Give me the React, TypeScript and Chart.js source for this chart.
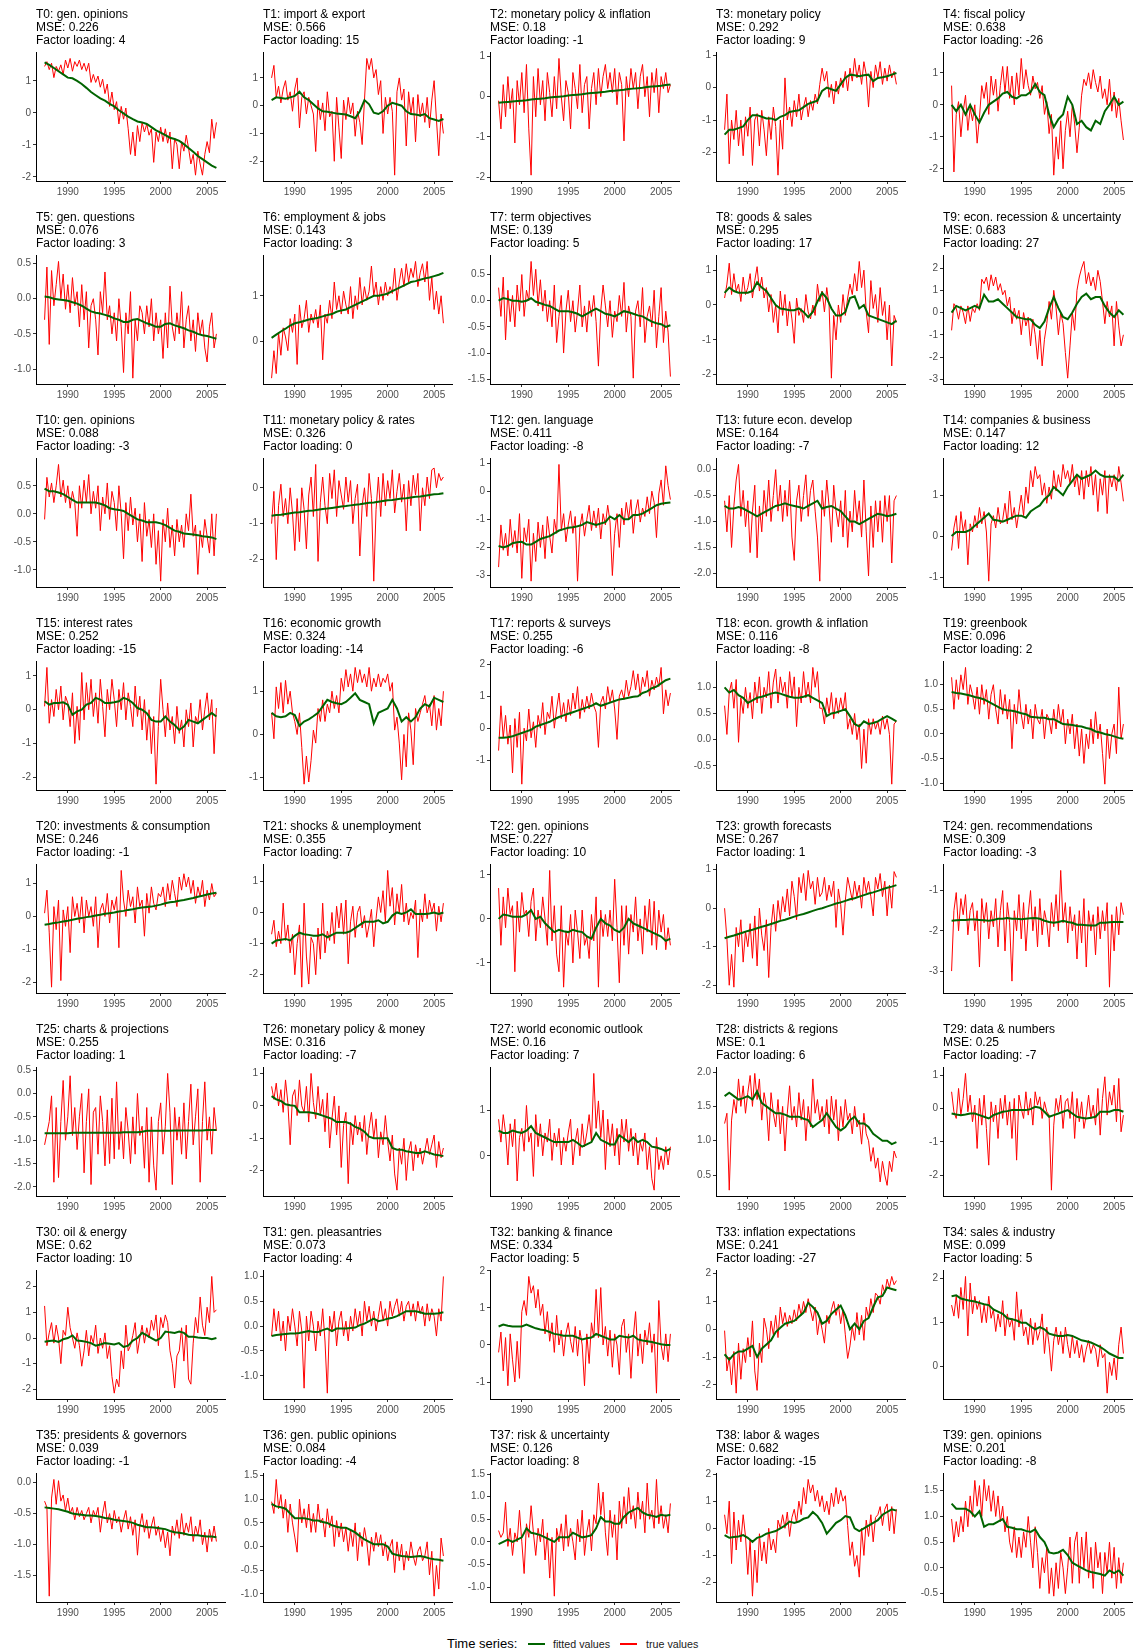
import React, { useEffect, useRef } from "react";
import { Chart, registerables } from "chart.js";

Chart.register(...registerables);

const FONT = "'Liberation Sans', Arial, Helvetica, sans-serif";

// ---- panel metadata ----
const topicNames = [
  "gen. opinions", "import & export", "monetary policy & inflation", "monetary policy", "fiscal policy",
  "gen. questions", "employment & jobs", "term objectives", "goods & sales", "econ. recession & uncertainty",
  "gen. opinions", "monetary policy & rates", "gen. language", "future econ. develop", "companies & business",
  "interest rates", "economic growth", "reports & surveys", "econ. growth & inflation", "greenbook",
  "investments & consumption", "shocks & unemployment", "gen. opinions", "growth forecasts", "gen. recommendations",
  "charts & projections", "monetary policy & money", "world economic outlook", "districts & regions", "data & numbers",
  "oil & energy", "gen. pleasantries", "banking & finance", "inflation expectations", "sales & industry",
  "presidents & governors", "gen. public opinions", "risk & uncertainty", "labor & wages", "gen. opinions",
];
const mseValues = [
  0.226, 0.566, 0.18, 0.292, 0.638, 0.076, 0.143, 0.139, 0.295, 0.683,
  0.088, 0.326, 0.411, 0.164, 0.147, 0.252, 0.324, 0.255, 0.116, 0.096,
  0.246, 0.355, 0.227, 0.267, 0.309, 0.255, 0.316, 0.16, 0.1, 0.25,
  0.62, 0.073, 0.334, 0.241, 0.099, 0.039, 0.084, 0.126, 0.682, 0.201,
];
const factorLoadings = [
  4, 15, -1, 9, -26, 3, 3, 5, 17, 27,
  -3, 0, -8, -7, 12, -15, -14, -6, -8, 2,
  -1, 7, 10, 1, -3, 1, -7, 7, 6, -7,
  10, 4, 5, -27, 5, -1, -4, 8, -15, -8,
];
// y tick spacing of each panel
const tickSteps = [
  1, 1, 1, 1, 1, 0.5, 1, 0.5, 1, 1,
  0.5, 1, 1, 0.5, 1, 1, 1, 1, 0.5, 0.5,
  1, 1, 1, 1, 1, 0.5, 1, 1, 0.5, 1,
  1, 0.5, 1, 1, 1, 0.5, 0.5, 0.5, 1, 0.5,
];
const xTickYears = [1990, 1995, 2000, 2005];
const firstYear = 1987.5;
const lastYear = 2006.0;

// ---- series (true values: quarterly, fitted values: half-yearly, 1987.5 .. 2006.0) ----
const true0 = [1.45,1.6, 1.35,1.55,1.1,1.45, 1.3,1.5,1.2,1.65, 1.4,1.7,1.3,1.6, 1.45,1.65,1.35,1.55, 1.3,1.55,0.95,1.2, 0.95,1.15,0.8,1.05, 0.6,0.9,0.2,0.65, 0.1,0.35,-0.35,0.2, -0.2,0.15,-0.5,-1.3, -0.6,-1.35,-0.4,-0.9, -0.3,-0.6,-0.35,-0.7, -0.5,-1.55,-0.6,-0.9, -0.45,-0.9,-0.5,-0.95, -0.6,-1.75,-0.8,-1.0, -1.75,-0.9,-1.2,-0.7, -1.1,-1.6,-1.3,-1.95, -1.2,-1.6,-1.95,-1.3, -0.9,-1.25,-0.2,-0.8, -0.3];
const fit0 = [1.58,1.5,1.4,1.3,1.2,1.1,1.08,1.0,0.9,0.78,0.65,0.55,0.45,0.38,0.28,0.2,0.08,-0.02,-0.12,-0.2,-0.27,-0.3,-0.35,-0.45,-0.55,-0.62,-0.7,-0.78,-0.82,-0.88,-0.98,-1.1,-1.22,-1.35,-1.45,-1.55,-1.65,-1.72];

const true1 = [1.0,1.45, 0.3,0.7,0.1,0.6, 0.9,0.2,0.5,-0.2, 0.6,1.0,-0.8,0.3, 0.5,-0.3,0.3,0.0, -0.3,-1.65,0.2,-0.5, 0.1,-0.9,0.5,-0.4, -0.2,-2.0,0.3,-0.8, -1.9,0.2,-0.5,0.3, -0.3,0.1,-1.1,-0.2, -0.6,-1.4,0.2,1.7, 1.3,1.7,1.0,1.3, 0.4,0.9,-1.0,0.3, -0.3,0.3,-0.2,-2.5, 0.5,1.0,0.2,0.6, -1.45,0.5,-0.3,0.3, -1.3,0.4,-0.4,0.1, -0.6,0.3,-0.8,0.2, 0.9,-0.5,-1.8,-0.3, -1.0];
const fit1 = [0.2,0.3,0.28,0.25,0.3,0.35,0.5,0.3,0.2,0.05,-0.1,-0.2,-0.22,-0.25,-0.28,-0.3,-0.32,-0.38,-0.45,-0.2,0.2,0.05,-0.25,-0.3,-0.2,0.0,0.1,0.05,0.0,-0.2,-0.3,-0.32,-0.35,-0.3,-0.45,-0.5,-0.55,-0.48];

const true2 = [-0.1,-0.8, 0.3,-0.5,0.5,-0.3, 0.2,-1.15,0.4,-0.2, 0.6,-0.4,0.8,-0.8, -1.95,0.5,-0.5,0.7, -0.2,0.4,-0.6,0.6, 0.1,-0.5,0.5,-0.3, 0.95,0.0,-0.6,0.4, 0.1,-0.8,0.6,0.2, -0.3,0.8,-0.4,0.3, 0.5,-0.8,0.2,0.6, -0.2,0.7,0.0,0.5, 0.8,0.2,0.6,0.1, 0.7,-0.2,0.6,0.3, -1.1,0.5,0.0,0.7, 0.2,0.6,-0.3,0.5, 0.8,0.0,0.5,-0.5, 0.6,0.1,0.7,-0.4, 0.5,0.2,0.6,0.1, 0.3];
const fit2 = [-0.15,-0.14,-0.13,-0.12,-0.11,-0.1,-0.09,-0.07,-0.06,-0.05,-0.04,-0.02,-0.01,0.0,0.01,0.03,0.04,0.05,0.06,0.08,0.09,0.1,0.11,0.12,0.14,0.15,0.16,0.17,0.19,0.2,0.21,0.22,0.24,0.25,0.26,0.27,0.29,0.3];

const true3 = [-1.3,-0.2, -2.35,-1.0,-1.6,-0.7, -1.8,-1.0,-2.1,-0.9, -1.5,-0.6,-2.4,-1.0, -0.8,-1.8,-0.7,-1.3, -2.1,-0.9,-1.6,-0.6, -1.2,-2.7,-1.0,-1.9, 0.3,-1.0,-0.6,-1.2, -0.4,-0.9,-0.2,-1.0, -0.6,-0.3,-0.9,-0.4, -0.7,-0.2,-0.5,0.1, 0.6,0.2,0.5,-0.3, 0.1,-0.5,0.2,-0.2, 0.3,0.0,0.5,-0.1, 0.6,0.2,0.9,0.3, 0.7,0.1,0.8,0.4, -0.6,0.5,0.0,0.7, 0.3,0.8,0.1,0.6, 0.2,0.7,0.3,0.5, 0.1];
const fit3 = [-1.45,-1.3,-1.3,-1.25,-1.2,-1.0,-0.85,-0.85,-0.9,-0.95,-0.95,-1.0,-0.9,-0.85,-0.75,-0.72,-0.7,-0.6,-0.5,-0.45,-0.4,-0.1,0.0,-0.05,-0.1,0.1,0.3,0.4,0.38,0.35,0.38,0.4,0.2,0.3,0.32,0.35,0.4,0.45];

const true4 = [0.6,-2.1, -0.3,0.1,-1.0,-0.2, 0.3,-0.8,-0.1,-0.5, 0.0,-1.2,-0.4,0.6, 0.2,0.7,-0.3,0.9, 0.3,0.8,-0.2,0.6, 1.2,0.4,1.2,0.2, 0.9,0.0,1.0,0.3, 1.45,0.5,1.1,0.6, 0.3,0.9,0.5,0.7, 0.2,0.6,-0.3,0.1, -0.9,-0.3,-2.2,-1.0, -1.7,-0.5,-2.0,-0.8, -0.2,-1.0,0.0,-0.6, -1.5,-0.7,0.3,0.8, 0.6,1.0,0.5,1.1, 0.7,0.4,0.9,0.2, 0.5,0.0,0.8,-0.2, 0.4,-0.4,0.2,-0.5, -1.1];
const fit4 = [0.0,-0.2,0.0,-0.3,0.0,-0.3,-0.55,-0.25,0.0,0.1,0.2,0.35,0.4,0.25,0.2,0.3,0.3,0.4,0.65,0.4,0.3,-0.3,-0.7,-0.45,-0.3,0.25,0.0,-0.6,-0.5,-0.7,-0.8,-0.5,-0.6,-0.2,0.0,0.25,0.0,0.1];

const true5 = [-0.3,0.45, -0.65,0.4,-0.1,0.2, 0.53,0.0,0.35,-0.15, 0.2,-0.2,0.3,-0.1, 0.1,-0.4,0.2,-0.3, 0.1,-0.7,-0.1,0.0, -0.3,-0.8,0.1,-0.2, 0.38,-0.3,-0.1,-0.5, -0.2,-0.6,0.0,-0.4, -1.05,-0.2,-0.5,0.1, -1.13,-0.3,-0.6,-0.1, -0.2,-0.5,-0.1,-0.4, 0.0,-0.6,-0.2,-0.5, -0.3,-0.85,-0.2,-0.7, 0.18,-0.4,-0.6,-0.2, -0.5,0.1,-0.7,-0.3, -0.1,-0.6,-0.3,-0.75, -0.2,-0.5,-0.3,-0.7, -0.9,-0.4,-0.2,-0.7, -0.5];
const fit5 = [0.03,0.02,0.0,-0.01,-0.02,-0.03,-0.05,-0.07,-0.1,-0.14,-0.18,-0.2,-0.21,-0.23,-0.25,-0.28,-0.3,-0.33,-0.33,-0.3,-0.29,-0.32,-0.35,-0.37,-0.4,-0.4,-0.36,-0.35,-0.38,-0.4,-0.42,-0.45,-0.47,-0.5,-0.52,-0.53,-0.55,-0.57];

const true6 = [-0.8,-0.2, -0.7,0.2,-0.3,0.3, 0.1,-0.2,0.5,0.2, 0.6,-0.5,0.8,0.3, 0.5,0.9,0.2,0.6, 0.4,0.7,0.3,0.8, -0.4,0.6,0.4,0.9, 0.5,1.3,0.7,1.0, 0.6,1.1,0.8,0.6, 1.2,0.5,1.0,0.7, 1.4,0.8,1.2,0.9, 1.1,1.65,1.0,1.3, 0.8,1.2,0.9,1.3, 1.0,1.2,1.05,1.6, 0.9,1.3,1.6,1.2, 1.7,1.3,1.6,1.4, 1.75,1.2,1.5,1.7, 1.3,1.75,0.9,1.4, 0.7,1.1,0.6,1.0, 0.4];
const fit6 = [0.08,0.15,0.22,0.28,0.35,0.4,0.42,0.45,0.48,0.5,0.52,0.55,0.58,0.6,0.65,0.68,0.7,0.75,0.8,0.85,0.9,0.95,1.0,1.0,1.02,1.05,1.1,1.15,1.2,1.25,1.3,1.32,1.35,1.38,1.4,1.43,1.46,1.5];

const true7 = [0.25,-0.3, 0.45,-0.75,0.2,-0.4, 0.1,-0.5,0.3,-0.2, 0.5,-0.3,0.2,0.0, 0.75,0.1,0.6,-0.1, 0.4,-0.2,0.2,-0.4, 0.0,-0.5,0.3,-0.8, -0.3,0.1,-1.0,-0.2, 0.2,-0.4,0.0,-0.6, -0.2,0.3,-0.5,-0.1, -0.6,0.0,-0.3,0.1, -0.4,-1.25,-0.2,0.3, -0.1,-0.5,0.0,-0.7, -0.2,-0.4,0.1,-0.3, 0.35,-0.6,-0.1,-0.3, -1.48,-0.2,0.0,-0.5, 0.25,-0.8,-0.3,-0.1, -0.5,0.2,-0.9,-0.3, 0.25,-0.8,-0.2,-0.6, -1.45];
const fit7 = [0.0,0.05,0.03,0.0,0.0,-0.02,0.0,0.05,-0.02,-0.05,-0.08,-0.1,-0.15,-0.2,-0.2,-0.2,-0.22,-0.25,-0.3,-0.25,-0.2,-0.15,-0.2,-0.25,-0.27,-0.3,-0.25,-0.2,-0.22,-0.25,-0.28,-0.3,-0.35,-0.4,-0.43,-0.45,-0.5,-0.47];

const true8 = [0.2,0.6, 1.2,0.3,0.9,0.4, 0.6,0.1,0.8,0.3, 0.5,0.9,0.2,0.7, 1.1,0.4,0.8,0.2, 0.5,-0.2,0.3,-0.5, 0.0,-0.8,0.4,-0.3, 0.3,-0.6,0.1,-0.4, -1.1,0.2,-0.3,-0.1, -0.5,0.3,-0.2,-0.4, 0.0,-0.3,0.6,0.1, 0.4,-0.2,0.5,0.0, -2.1,-0.3,-1.0,0.0, -0.5,0.3,-0.3,0.2, 0.6,0.3,0.9,0.4, 1.25,0.5,1.0,-0.2, -0.8,0.7,-0.1,0.3, -0.5,0.5,-0.3,0.1, -1.0,0.0,-1.75,-0.3, -0.5];
const fit8 = [0.35,0.5,0.4,0.35,0.35,0.35,0.4,0.65,0.5,0.4,0.2,0.0,-0.1,-0.12,-0.15,-0.15,-0.1,-0.2,-0.35,-0.2,0.1,0.35,0.2,-0.1,-0.3,-0.3,-0.2,0.2,0.25,-0.1,0.0,-0.3,-0.35,-0.4,-0.45,-0.5,-0.55,-0.45];

const true9 = [-0.8,0.4, 0.2,-0.3,0.3,0.0, -0.5,0.3,-0.4,0.2, 0.0,0.4,0.1,1.5, 1.3,1.6,1.0,1.7, 1.2,1.6,1.0,1.3, 0.8,1.0,0.3,0.7, -0.5,0.2,-0.3,0.1, -1.0,0.0,-0.6,-0.2, -1.5,-0.3,-1.0,-2.1, -0.8,-2.4,-1.2,-0.5, 0.5,-0.3,1.0,0.2, -1.0,0.0,-0.5,-1.8, -2.95,-1.5,0.0,-0.8, 1.0,1.6,2.0,2.3, 1.3,1.8,1.2,1.6, 1.0,1.9,1.4,0.5, -0.5,0.5,-0.2,0.3, -1.5,0.5,-0.6,-1.5, -1.0];
const fit9 = [0.0,0.3,0.2,0.1,0.2,0.3,0.2,0.8,0.5,0.5,0.6,0.4,0.2,0.0,-0.2,-0.25,-0.3,-0.3,-0.55,-0.7,-0.4,0.2,0.7,0.2,-0.2,-0.3,0.0,0.4,0.7,0.85,0.6,0.7,0.7,0.3,0.0,-0.2,0.1,-0.1];

const true10 = [-0.1,0.65, 0.3,0.55,0.2,0.5, 0.88,0.3,0.6,0.2, 0.5,0.1,0.4,0.2, -0.4,0.5,0.1,0.6, 0.2,0.7,0.0,0.4, 0.1,0.5,-0.3,0.3, 0.0,0.55,-0.1,0.4, 0.2,-0.3,0.5,0.0, -0.8,0.2,-0.3,0.3, -0.2,0.1,-0.5,0.0, -0.85,0.2,-0.4,-0.1, -0.6,0.0,-0.9,-0.3, -1.2,-0.1,-0.5,0.1, -0.6,-0.2,-0.75,-0.1, -0.5,-0.2,-0.6,0.0, -0.3,0.35,-0.4,-0.2, -1.08,-0.3,-0.6,-0.1, -0.4,-0.7,0.0,-0.75, 0.0];
const fit10 = [0.45,0.4,0.4,0.38,0.35,0.3,0.25,0.2,0.2,0.2,0.2,0.2,0.18,0.15,0.1,0.08,0.07,0.05,0.0,-0.05,-0.1,-0.12,-0.15,-0.15,-0.15,-0.17,-0.2,-0.25,-0.3,-0.32,-0.35,-0.36,-0.37,-0.38,-0.4,-0.41,-0.42,-0.45];

const true11 = [-1.0,-0.1, -2.0,-0.5,0.1,-0.8, -0.3,-1.0,0.0,-0.7, -1.75,-0.3,-1.5,0.0, -0.6,-1.7,-0.2,0.3, -0.8,0.65,-2.05,-0.4, 0.3,-0.5,-1.0,0.4, -0.3,0.5,-0.8,0.2, -0.2,-0.6,0.3,-0.4, 0.2,-1.0,-0.3,0.1, -1.9,-0.5,0.0,-0.8, 0.4,-0.3,-2.6,-0.6, 0.3,-0.8,0.4,-0.5, 0.2,-0.3,0.5,-0.7, -0.1,0.4,-0.4,0.1, -1.2,0.2,-0.5,0.35, -0.2,0.4,-1.2,0.0, -0.5,0.3,-0.3,0.5, 0.55,0.0,0.4,0.2, 0.3];
const fit11 = [-0.78,-0.76,-0.75,-0.73,-0.71,-0.69,-0.68,-0.66,-0.64,-0.63,-0.61,-0.59,-0.58,-0.56,-0.54,-0.52,-0.51,-0.49,-0.47,-0.46,-0.44,-0.42,-0.41,-0.39,-0.37,-0.35,-0.34,-0.32,-0.3,-0.29,-0.27,-0.25,-0.24,-0.22,-0.2,-0.18,-0.17,-0.15];

const true12 = [-2.7,-1.2, -2.1,-1.5,-2.3,-1.0, -2.0,-1.4,-2.2,-0.8, -3.1,-1.3,-1.8,-1.0, -3.2,-1.5,-2.5,-1.1, -2.0,-1.2,-2.4,-0.9, -1.6,-2.2,-1.0,-1.5, 0.95,-1.4,-0.8,-1.8, -1.2,-0.7,-1.5,-0.9, -3.2,-1.3,-0.8,-1.6, -1.0,-0.5,-1.4,-0.7, -1.3,-0.6,-1.7,-0.8, -1.2,-0.5,-1.1,-3.0, -1.5,-0.8,-2.0,-0.6, -1.2,-0.4,-1.0,-0.3, -1.5,-0.7,-0.3,-1.1, -0.6,-0.9,-0.2,-0.8, 0.0,-0.4,-1.65,-0.1, 0.4,-0.5,0.9,0.2, -0.3];
const fit12 = [-1.95,-2.0,-1.95,-1.85,-1.82,-1.8,-1.9,-1.9,-1.8,-1.7,-1.65,-1.6,-1.5,-1.4,-1.35,-1.3,-1.28,-1.25,-1.2,-1.1,-1.15,-1.2,-1.15,-1.1,-0.9,-1.0,-0.85,-1.0,-1.0,-0.85,-0.85,-0.8,-0.7,-0.6,-0.5,-0.45,-0.42,-0.4];

const true13 = [-0.6,-1.2, -0.5,-1.5,-0.7,-0.2, 0.1,-0.9,-0.4,-1.1, -0.6,-1.6,-0.8,-0.3, -1.7,-0.7,-1.2,-0.4, -0.9,-0.2,-1.0,-0.5, 0.0,-0.8,-0.3,-1.0, -0.4,-0.9,-0.2,-1.3, -1.75,-0.6,-0.3,-1.0, -0.5,-0.1,-0.9,-0.4, -0.2,-0.8,-1.3,-2.15, -0.4,-0.9,-0.2,-0.7, -1.4,-0.3,-0.8,-1.1, -0.6,-1.3,-0.4,-1.5, -0.8,-1.2,-0.4,-1.0, -0.6,-1.3,-0.2,-1.2, -2.05,-0.7,-1.5,-0.6, -1.2,-0.6,-1.4,-0.5, -1.0,-0.5,-1.8,-0.6, -0.5];
const fit13 = [-0.7,-0.75,-0.75,-0.72,-0.75,-0.8,-0.85,-0.9,-0.85,-0.8,-0.75,-0.7,-0.68,-0.65,-0.68,-0.7,-0.72,-0.75,-0.7,-0.65,-0.6,-0.75,-0.72,-0.7,-0.75,-0.8,-0.9,-1.0,-1.0,-1.05,-1.0,-0.95,-0.9,-0.85,-0.87,-0.9,-0.88,-0.85];

const true14 = [-0.35,0.2, 0.5,-0.3,0.6,0.1, 0.4,-0.7,0.3,0.1, 0.5,0.2,0.7,0.3, 0.6,0.1,-1.1,0.3, 0.5,0.2,0.7,0.3, 0.4,0.8,0.3,1.1, 0.4,0.7,0.2,0.6, 1.0,0.5,1.2,0.8, 1.6,1.2,1.7,1.4, 1.5,1.0,1.3,0.8, 1.2,0.9,1.6,1.1, 1.5,1.2,1.75,1.4, 1.6,1.3,1.75,1.2, 1.5,1.0,1.6,0.9, 1.6,1.2,1.7,1.0, 1.5,0.6,1.4,1.0, 1.6,0.55,1.5,1.2, 1.5,1.1,1.7,1.3, 0.85];
const fit14 = [0.0,0.1,0.1,0.1,0.15,0.25,0.35,0.45,0.55,0.4,0.38,0.35,0.4,0.45,0.5,0.5,0.45,0.6,0.68,0.75,0.9,1.0,1.2,1.1,1.0,1.2,1.35,1.5,1.4,1.45,1.5,1.6,1.5,1.45,1.45,1.45,1.35,1.5];

const true15 = [0.1,1.25, -0.4,0.3,-0.2,0.6, 0.0,0.7,-0.3,0.4, 0.2,-0.5,0.5,-1.0, 0.1,-0.9,1.1,-0.3, 0.8,0.0,0.9,-0.2, 0.5,-0.4,0.9,0.1, -0.8,0.6,0.0,0.9, 0.3,-0.5,0.6,0.0, 0.8,-0.3,0.5,0.1, -0.5,0.7,-0.2,0.4, -0.6,0.3,-0.9,0.0, -1.3,-0.2,-2.2,-0.5, 0.9,0.0,-0.8,0.2, -0.6,-0.2,-1.0,0.1, -0.7,-0.3,-1.1,0.0, -0.5,0.2,-1.1,-0.2, -0.4,0.3,-0.6,0.0, 0.5,-0.3,0.3,-1.3, 0.05];
const fit15 = [0.25,0.15,0.2,0.2,0.22,0.15,-0.15,-0.05,0.0,0.15,0.2,0.35,0.3,0.2,0.2,0.22,0.25,0.35,0.3,0.2,0.05,0.0,-0.1,-0.3,-0.35,-0.35,-0.2,-0.35,-0.45,-0.6,-0.5,-0.3,-0.35,-0.4,-0.3,-0.2,-0.1,-0.2];

const true16 = [0.5,-0.1, 1.1,0.6,1.2,0.5, 1.25,0.7,1.0,0.5, 0.3,0.0,0.5,-0.3, -1.15,-0.5,-1.1,-0.6, 0.1,-0.2,0.6,0.3, 0.8,0.3,0.7,0.5, 1.0,0.6,0.9,0.5, 1.3,1.0,1.5,1.1, 1.4,1.0,1.55,1.2, 1.5,1.2,1.4,1.1, 1.55,1.0,1.3,1.1, 1.4,1.1,1.3,1.2, 1.4,1.0,1.2,0.1, 0.4,-0.2,-1.05,0.0, -0.75,0.5,0.1,-0.7, 0.6,0.3,0.5,0.7, 0.9,0.5,0.7,0.2, 0.9,0.1,0.6,0.2, 1.0];
const fit16 = [0.5,0.42,0.4,0.42,0.5,0.45,0.2,0.3,0.35,0.42,0.5,0.65,0.8,0.75,0.72,0.7,0.75,0.85,0.95,0.8,0.75,0.7,0.25,0.5,0.55,0.6,0.8,0.6,0.3,0.4,0.3,0.4,0.6,0.7,0.65,0.85,0.8,0.75];

const true17 = [-0.7,0.7, -0.3,0.4,-0.5,0.1, -1.4,0.3,-0.6,0.5, -1.75,0.0,-0.4,0.6, -0.3,0.2,-0.6,0.4, 0.0,0.8,-0.2,0.5, 0.3,1.0,0.0,0.6, 1.1,0.3,0.8,0.2, 0.9,0.4,1.1,0.6, 1.3,0.3,0.9,0.5, 1.0,0.6,1.1,0.7, 0.5,-0.6,0.8,1.0, 0.6,1.3,0.8,1.2, 0.6,-0.35,1.0,1.2, 0.9,1.5,1.0,1.3, 1.8,1.2,1.7,1.0, 1.6,1.3,1.8,1.0, 1.5,1.2,1.6,1.3, 1.9,0.45,1.2,0.7, 1.1];
const fit17 = [-0.3,-0.3,-0.28,-0.25,-0.2,-0.15,-0.1,-0.05,0.05,0.1,0.15,0.2,0.28,0.35,0.4,0.45,0.5,0.55,0.6,0.65,0.7,0.78,0.7,0.75,0.8,0.85,0.9,0.92,0.95,0.98,1.0,1.1,1.15,1.25,1.3,1.4,1.5,1.55];

const true18 = [0.65,0.1, 0.9,1.1,0.6,1.15, -0.05,0.8,0.5,1.0, 0.6,0.9,0.4,1.1, 0.7,1.2,0.5,1.0, 0.8,1.3,0.6,1.1, 1.35,0.7,1.2,0.9, 1.1,0.6,1.3,0.8, 1.2,0.25,1.0,0.7, 1.3,0.8,1.1,0.7, 1.38,1.0,1.3,0.6, 0.6,0.3,0.8,0.5, 0.9,0.4,0.8,0.5, 0.8,0.55,0.9,0.2, 0.4,0.1,0.5,0.0, 0.3,-0.55,0.2,-0.45, 0.4,0.1,0.4,0.2, 0.35,0.1,0.45,0.2, 0.4,0.1,-0.85,0.3, 0.35];
const fit18 = [1.0,0.9,0.95,0.85,0.8,0.7,0.75,0.8,0.82,0.85,0.88,0.9,0.88,0.85,0.82,0.8,0.8,0.82,0.85,0.8,0.75,0.7,0.45,0.5,0.52,0.55,0.58,0.45,0.3,0.25,0.35,0.3,0.32,0.35,0.4,0.45,0.4,0.35];

const true19 = [1.15,0.5, 1.1,0.7,1.2,0.9, 1.35,0.6,1.0,0.8, 0.5,0.95,0.4,1.0, 0.6,0.9,0.3,0.8, 1.0,0.5,0.2,0.9, 0.4,0.8,0.3,0.7, -0.3,0.6,0.2,0.9, 0.4,0.1,0.6,0.2, 0.5,-0.1,0.6,0.3, 0.2,0.5,-0.1,0.4, 0.3,0.0,0.5,0.1, 0.6,0.2,0.5,-0.2, 0.3,0.0,0.4,-0.3, 0.2,-0.45,0.1,-0.6, 0.0,-0.3,0.3,-0.2, 0.45,-0.1,0.2,-0.4, -1.02,0.1,-0.5,0.0, 0.2,-0.4,0.95,-0.1, 0.2];
const fit19 = [0.85,0.83,0.82,0.8,0.78,0.75,0.73,0.7,0.65,0.6,0.55,0.5,0.48,0.47,0.45,0.42,0.4,0.35,0.34,0.33,0.33,0.3,0.3,0.25,0.2,0.19,0.18,0.16,0.15,0.12,0.1,0.05,0.03,0.0,-0.02,-0.05,-0.08,-0.1];

const true20 = [0.1,0.8, -0.5,-2.15,0.3,-0.4, 0.5,-1.95,0.2,-0.3, 0.3,-1.1,0.6,0.0, 0.4,-0.2,0.6,-0.5, 0.5,0.0,0.3,-0.3, 0.6,-0.95,0.2,0.4, 0.0,0.7,-0.2,0.5, 0.2,0.6,-0.95,1.4, 0.5,0.0,0.8,0.3, 0.6,-0.2,0.9,0.3, 0.5,-0.6,0.7,0.1, 0.9,0.4,0.2,0.7, 0.6,0.9,0.3,1.0, 0.5,1.1,0.7,0.3, 1.2,0.8,1.3,0.9, 1.2,0.7,1.1,0.4, 0.9,0.6,1.1,0.3, 0.8,0.5,1.0,0.6, 0.7];
const fit20 = [-0.25,-0.23,-0.2,-0.18,-0.15,-0.13,-0.1,-0.07,-0.05,-0.02,0.0,0.03,0.05,0.08,0.1,0.12,0.15,0.17,0.2,0.22,0.25,0.27,0.29,0.3,0.33,0.36,0.4,0.43,0.45,0.48,0.5,0.53,0.56,0.6,0.63,0.67,0.7,0.72];

const true21 = [-0.7,-0.25, -1.1,-0.6,-1.0,0.3, -0.9,-0.4,-1.3,-0.7, -2.0,-1.0,-0.4,-2.4, 0.3,-1.4,-2.3,-0.8, -1.0,-2.0,-0.5,-1.5, 0.3,-1.3,-0.6,-0.9, 0.0,-1.0,0.2,-0.5, 0.3,-0.7,0.4,-1.65, -0.3,0.2,-0.8,0.0, 0.2,-0.5,-0.1,-0.8, -0.4,0.1,-1.1,-0.2, 0.5,0.0,0.7,-0.3, 1.35,0.2,0.8,-0.4, 0.6,0.0,0.9,-0.3, 0.3,-0.4,0.0,-0.2, 0.4,-1.45,0.1,-0.3, 0.6,-0.2,0.4,0.0, 0.3,-0.6,0.2,-0.3, 0.3];
const fit21 = [-1.0,-0.9,-0.88,-0.85,-0.9,-0.75,-0.65,-0.7,-0.72,-0.75,-0.75,-0.7,-0.8,-0.72,-0.65,-0.65,-0.65,-0.6,-0.5,-0.4,-0.3,-0.3,-0.3,-0.25,-0.35,-0.3,-0.1,0.0,-0.05,0.0,0.1,-0.05,-0.05,-0.05,-0.03,0.0,-0.05,0.0];

const true22 = [0.7,-0.6, 0.5,-0.2,0.7,0.1, 0.3,-1.2,0.4,-0.3, 0.6,0.1,0.2,-0.4, 0.4,0.7,-0.5,0.2, -0.2,0.5,0.0,-0.6, 1.1,-0.5,0.3,-0.8, -1.2,0.3,-1.55,-0.3, -0.6,0.1,-1.0,0.2, -0.3,-0.9,0.2,-0.6, -0.4,-0.9,0.1,-0.5, 0.5,-1.55,0.2,-0.4, 0.1,-0.4,0.2,-0.5, 0.9,-0.2,-1.45,0.3, -0.6,0.3,-0.8,0.1, -0.3,0.5,-0.5,0.0, -0.8,0.3,-0.3,0.45, -0.6,0.4,-0.7,0.2, -0.3,0.1,-0.7,-0.2, -0.6];
const fit22 = [0.0,0.1,0.08,0.05,0.05,0.05,0.1,0.2,0.0,0.05,-0.1,-0.2,-0.3,-0.25,-0.28,-0.3,-0.25,-0.28,-0.3,-0.4,-0.45,-0.2,0.0,-0.1,-0.15,-0.25,-0.3,-0.2,0.0,-0.1,-0.15,-0.2,-0.25,-0.3,-0.35,-0.4,-0.5,-0.45];

const true23 = [0.0,-0.8, -2.0,-1.2,-2.05,-0.5, -1.0,-0.3,-1.4,-0.6, -1.0,-0.4,-1.3,-0.2, -1.5,0.0,-0.7,-1.1, -0.3,-1.8,-0.5,0.1, -0.6,0.2,-0.3,0.3, -0.1,0.5,-0.2,0.7, 0.3,-0.3,0.8,0.4, 0.9,0.2,0.98,0.5, 0.7,0.1,0.8,0.3, 0.4,0.8,0.2,0.6, 0.3,0.7,-0.5,0.5, 0.1,-0.7,0.2,0.8, 0.5,0.2,0.7,0.3, 0.6,0.0,0.8,0.4, 0.7,0.3,-0.2,0.8, 0.5,0.9,0.3,0.7, -0.2,0.6,0.0,0.95, 0.8];
const fit23 = [-0.78,-0.74,-0.71,-0.67,-0.63,-0.59,-0.56,-0.52,-0.48,-0.45,-0.41,-0.37,-0.33,-0.3,-0.26,-0.22,-0.18,-0.15,-0.11,-0.07,-0.03,0.0,0.04,0.08,0.12,0.15,0.19,0.23,0.26,0.3,0.34,0.38,0.41,0.45,0.49,0.53,0.56,0.6];

const true24 = [-3.0,-1.5, -1.05,-2.0,-1.2,-1.6, -1.1,-2.1,-1.5,-1.3, -2.0,-1.5,-2.9,-1.2, -1.8,-1.3,-2.2,-1.5, -1.9,-1.2,-2.4,-1.5, -1.0,-2.5,-1.3,-1.8, -3.25,-1.5,-2.0,-1.1, -2.2,-1.3,-2.5,-1.6, -1.0,-2.0,-1.4,-2.4, -1.2,-2.1,-1.5,-1.8, -2.4,-1.3,-1.9,-1.1, -2.0,-0.5,-1.8,-1.3, -2.3,-1.4,-2.0,-1.6, -2.7,-1.5,-2.3,-1.2, -2.9,-1.5,-2.0,-1.6, -2.6,-1.4,-2.2,-1.5, -2.0,-1.3,-3.4,-1.6, -2.5,-1.4,-2.1,-1.3, -1.6];
const fit24 = [-1.75,-1.74,-1.73,-1.73,-1.72,-1.72,-1.73,-1.74,-1.75,-1.73,-1.7,-1.7,-1.68,-1.7,-1.7,-1.71,-1.7,-1.69,-1.68,-1.7,-1.75,-1.78,-1.8,-1.78,-1.75,-1.78,-1.8,-1.85,-1.85,-1.86,-1.87,-1.87,-1.8,-1.8,-1.79,-1.78,-1.78,-1.78];

const true25 = [-1.1,-0.85, -0.6,-0.05,-1.9,-0.3, -1.8,-0.6,0.28,-1.0, -0.5,0.38,-0.9,-0.3, -1.2,-0.5,0.0,-1.7, -0.6,0.1,-1.95,-0.4, -0.3,-1.3,-0.05,-0.6, -1.55,-0.35,-1.5,-0.1, -1.4,0.25,-1.2,-0.6, -1.4,-0.3,-0.8,-1.5, -0.5,-1.3,0.0,-0.9, -0.7,-1.6,-0.3,-1.9, -0.5,-1.55,-2.07,-0.6, -0.2,-1.3,-0.7,0.43, -0.4,-1.95,-0.3,-1.0, -0.5,-1.3,-0.2,-1.4, -0.6,0.2,-1.1,-0.5, 0.1,-1.9,-0.6,0.25, -1.0,-0.5,-1.3,-0.3, -0.8];
const fit25 = [-0.85,-0.85,-0.85,-0.85,-0.85,-0.85,-0.84,-0.84,-0.84,-0.84,-0.84,-0.84,-0.84,-0.84,-0.84,-0.84,-0.84,-0.83,-0.83,-0.83,-0.83,-0.82,-0.8,-0.8,-0.8,-0.8,-0.8,-0.8,-0.79,-0.79,-0.79,-0.79,-0.79,-0.79,-0.79,-0.78,-0.78,-0.78];

const true26 = [0.6,0.2, 0.7,0.0,0.5,-0.2, 0.8,0.1,-1.2,0.3, 0.5,-0.3,0.8,0.0, -0.2,0.6,-0.5,1.0, 0.1,-0.4,0.6,-0.3, 0.2,-0.8,0.4,-1.3, -0.4,0.3,-0.9,0.0, -1.9,-0.6,-0.2,-2.4, -0.5,-1.2,-0.3,-0.9, -0.5,-1.1,-0.3,-1.5, -0.7,-0.2,-1.0,-0.4, -1.6,-0.8,-1.2,-0.3, -1.1,-1.7,-0.9,-2.1, -2.6,-1.3,-1.8,-1.0, -2.3,-1.4,-1.1,-2.0, -1.2,-1.6,-1.3,-1.8, -1.4,-1.0,-1.5,-1.2, -0.9,-1.9,-1.1,-1.6, -1.3];
const fit26 = [0.3,0.2,0.15,0.05,0.02,0.0,-0.2,-0.2,-0.2,-0.22,-0.25,-0.3,-0.35,-0.4,-0.5,-0.5,-0.5,-0.55,-0.65,-0.7,-0.8,-0.95,-1.0,-1.0,-1.0,-1.0,-1.3,-1.35,-1.35,-1.4,-1.42,-1.45,-1.45,-1.4,-1.45,-1.5,-1.52,-1.55];

const true27 = [0.8,0.3, 0.9,0.5,-0.2,0.7, 0.2,0.8,-0.55,0.4, 0.6,0.1,1.1,0.3, 0.5,-0.45,0.9,0.2, 0.7,0.0,0.5,0.3, 0.8,-0.1,0.5,0.2, 0.6,-0.2,0.4,0.1, 0.5,0.8,-0.2,0.3, 0.6,0.0,0.7,0.2, 0.5,0.9,0.3,1.8, 0.6,1.2,0.4,1.0, -0.3,0.8,0.2,0.7, 0.0,0.6,-0.2,0.8, 0.3,0.8,0.1,0.6, 0.0,0.5,-0.2,0.3, 0.1,0.5,-0.3,0.2, -0.5,-0.75,0.4,-0.3, 0.0,-0.3,0.2,-0.2, 0.2];
const fit27 = [0.55,0.5,0.5,0.55,0.52,0.5,0.55,0.65,0.5,0.45,0.4,0.35,0.3,0.3,0.3,0.3,0.35,0.28,0.2,0.25,0.3,0.5,0.35,0.3,0.25,0.25,0.45,0.38,0.3,0.4,0.3,0.35,0.3,0.2,0.18,0.15,0.1,0.15];

const true28 = [1.25,1.4, 0.28,1.3,1.6,1.4, 1.9,1.5,1.8,1.4, 1.7,1.95,1.5,1.98, 1.6,1.9,1.3,1.7, 1.5,1.0,1.7,1.4, 1.2,1.6,1.1,1.5, 0.85,1.4,1.8,1.3, 1.5,1.2,1.7,1.3, 1.6,1.0,1.5,1.2, 1.9,1.4,1.6,1.3, 1.5,1.2,1.6,1.1, 1.65,1.3,1.6,1.0, 1.5,1.2,1.6,1.3, 1.4,1.1,1.5,1.2, 1.3,0.95,1.4,1.1, 1.0,0.7,0.9,0.6, 0.75,0.4,0.7,0.5, 0.35,0.7,0.55,0.85, 0.75];
const fit28 = [1.65,1.7,1.65,1.6,1.62,1.65,1.6,1.72,1.55,1.5,1.45,1.4,1.4,1.38,1.35,1.35,1.35,1.32,1.3,1.2,1.25,1.3,1.4,1.3,1.2,1.15,1.2,1.3,1.35,1.25,1.25,1.2,1.1,1.05,1.0,1.0,0.95,0.98];

const true29 = [0.5,-0.1, -0.3,0.6,-0.2,0.3, 1.05,-0.1,0.4,-0.4, 0.1,-1.2,0.3,-0.5, 0.4,-0.6,-1.7,0.2, -0.4,0.1,-0.9,0.3, -0.3,0.4,-0.5,0.2, -0.9,0.3,-1.55,0.4, 0.0,-0.3,0.5,-0.2, 0.3,-0.5,0.5,0.1, 0.35,-0.3,0.2,-0.1, -0.2,-2.45,-0.5,0.3, -0.1,0.4,-0.6,0.2, 0.3,-0.3,0.5,-0.9, 0.3,-0.4,0.2,-0.6, -0.2,0.4,-0.3,0.1, -0.5,0.6,-0.8,0.3, 0.95,-0.2,0.5,0.1, 0.7,-0.4,0.9,-0.7, -0.2];
const fit29 = [-0.15,-0.18,-0.2,-0.18,-0.15,-0.15,-0.2,-0.25,-0.3,-0.2,-0.15,-0.1,-0.08,-0.05,-0.05,-0.05,-0.05,-0.02,0.05,0.02,-0.1,-0.25,-0.2,-0.15,-0.1,-0.05,-0.15,-0.25,-0.28,-0.3,-0.28,-0.25,-0.1,-0.1,-0.1,-0.05,-0.05,-0.1];

const true30 = [1.25,-0.3, 0.2,0.6,-0.2,0.5, 0.0,-1.0,0.3,0.1, 1.2,0.4,0.0,-0.4, 0.2,-0.3,-1.1,-0.5, 0.3,-0.7,0.1,-0.2, 0.5,-0.6,0.0,-0.4, 0.2,-0.8,-0.3,-1.5, -2.15,-1.6,-1.9,-0.5, -1.2,0.5,-0.5,-0.3, 0.1,0.6,-0.6,0.0, 0.5,-0.2,0.4,0.0, 0.7,0.3,0.9,-0.3, 0.8,0.4,0.9,0.6, -0.5,-1.0,-1.95,-0.7, -0.5,0.4,-0.9,0.5, -1.6,-1.8,-0.2,0.8, 0.2,1.6,0.5,0.1, 1.2,0.6,2.4,1.0, 1.1];
const fit30 = [-0.15,-0.12,-0.1,-0.15,-0.05,0.0,0.1,-0.1,-0.12,-0.15,-0.2,-0.3,-0.25,-0.2,-0.22,-0.25,-0.2,-0.35,-0.3,-0.1,0.0,0.2,0.1,0.0,-0.1,0.0,0.25,0.22,0.2,0.25,0.2,0.05,0.05,0.02,0.0,0.0,-0.05,0.0];

const true31 = [-0.2,0.35, -0.1,0.3,-0.3,0.1, -0.5,0.2,-0.1,0.35, 0.0,-0.4,0.3,-0.1, -1.25,0.2,-0.3,0.3, 0.0,-0.5,0.1,-0.2, 0.35,-0.3,-1.35,0.2, -0.1,0.3,-0.4,0.1, 0.3,-0.2,0.1,-0.3, 0.2,-0.1,0.35,0.0, 0.3,-0.2,0.5,0.1, 0.4,0.0,0.3,-0.1, 0.2,0.5,0.1,0.35, 0.0,0.5,0.2,0.4, 0.55,0.2,0.5,0.1, 0.4,0.5,0.2,0.45, 0.1,0.5,0.25,0.4, 0.0,0.45,0.1,0.35, 0.2,-0.2,0.35,0.1, 1.0];
const fit31 = [-0.2,-0.18,-0.17,-0.16,-0.15,-0.15,-0.14,-0.12,-0.1,-0.12,-0.12,-0.08,-0.05,-0.1,-0.05,-0.05,-0.05,-0.04,-0.03,0.02,0.05,0.1,0.15,0.1,0.12,0.15,0.17,0.2,0.25,0.3,0.3,0.3,0.28,0.25,0.25,0.25,0.26,0.28];

const true32 = [-0.2,0.35, -0.7,0.2,-1.1,0.3, -0.4,-1.0,0.1,-0.9, 0.9,1.2,0.8,1.85, 1.4,1.6,1.0,1.5, 0.8,1.1,0.3,0.9, 0.1,0.6,-0.2,0.8, 0.0,0.4,-0.3,0.3, 0.6,0.1,-0.2,0.5, -0.3,0.4,0.0,-1.1, 0.3,-0.5,0.6,0.2, 1.5,0.2,1.55,0.0, 0.5,-0.3,0.4,-0.6, 0.3,0.0,-0.8,0.5, 0.7,-0.2,0.3,-0.9, 0.2,0.9,-0.3,0.3, -0.5,0.4,0.0,0.6, -0.2,0.3,-1.3,1.2, 0.0,-0.4,0.3,-0.45, 0.3];
const fit32 = [0.5,0.55,0.52,0.5,0.5,0.5,0.55,0.5,0.45,0.42,0.4,0.35,0.3,0.28,0.25,0.25,0.25,0.2,0.15,0.18,0.2,0.3,0.25,0.2,0.15,0.15,0.25,0.22,0.2,0.25,0.15,0.12,0.1,0.08,0.05,0.02,0.0,0.0];

const true33 = [-0.05,-1.5, -1.0,-2.0,-0.8,-2.3, -0.5,-1.8,-0.7,-1.2, -0.3,-1.0,0.3,-1.5, -2.2,-0.5,-1.2,0.4, 0.0,-0.7,0.3,-0.2, 0.5,-0.3,0.8,0.2, 0.6,0.1,0.5,0.2, 0.7,0.3,0.9,0.5, 1.0,0.6,1.1,0.7, 0.3,0.8,-0.2,0.4, 0.0,-0.5,0.5,0.2, 0.7,1.0,0.5,0.9, 0.2,0.7,-0.2,-1.05, -0.6,0.1,-0.4,0.6, -0.2,0.5,-0.4,0.8, 0.4,1.1,0.6,1.3, 1.2,0.9,1.6,1.3, 1.8,1.5,1.9,1.6, 1.75];
const fit33 = [-0.9,-1.1,-0.9,-0.8,-0.8,-0.7,-0.6,-1.0,-0.7,-0.55,-0.4,-0.1,0.05,0.2,0.25,0.3,0.45,0.6,0.95,0.8,0.6,0.2,0.3,0.55,0.7,0.85,0.5,0.0,0.2,0.0,0.3,0.4,0.8,1.15,1.2,1.5,1.45,1.4];

const true34 = [1.4,1.15, 1.6,1.1,1.8,1.3, 2.05,0.7,1.9,1.2, 1.6,1.3,1.5,1.0, 1.4,1.0,1.6,1.1, 1.3,0.8,1.2,0.9, 1.5,0.7,1.2,0.9, 1.1,0.6,1.7,0.9, 1.3,0.7,0.9,0.5, 1.1,0.5,1.0,0.6, 0.8,1.2,0.3,0.9, 0.5,-0.1,0.6,0.9, 0.5,0.8,0.3,0.9, 0.5,0.2,0.7,0.3, 0.6,0.2,0.5,0.1, 0.4,0.6,0.3,0.5, 0.4,0.0,0.5,0.2, 0.3,-0.6,0.1,-0.2, 0.2,-0.3,0.5,0.9, 0.3];
const fit34 = [1.6,1.62,1.55,1.52,1.5,1.48,1.45,1.42,1.4,1.3,1.25,1.2,1.1,1.08,1.05,1.0,1.0,0.92,0.85,0.9,0.85,0.75,0.72,0.7,0.7,0.72,0.7,0.65,0.6,0.58,0.55,0.5,0.45,0.38,0.3,0.25,0.2,0.2];

const true35 = [-0.3,-0.4, -1.83,-0.25,0.05,-0.35, 0.03,-0.3,-0.2,-0.45, -0.25,-0.5,-0.4,-0.6, -0.4,-0.55,-0.45,-0.6, -0.5,-0.4,-0.65,-0.45, -0.55,-0.4,-0.8,-0.5, -0.3,-0.65,-0.5,-0.75, -0.45,-0.65,-0.55,-0.8, -0.6,-0.45,-0.75,-0.55, -0.85,-0.6,-1.17,-0.7, -0.5,-0.8,-0.6,-0.9, -0.7,-0.55,-0.85,-0.7, -0.95,-0.75,-1.05,-0.8, -1.18,-0.7,-0.85,-0.6, -0.9,-0.5,-0.85,-0.65, -0.8,-0.55,-0.95,-0.7, -0.85,-0.6,-1.0,-0.8, -1.12,-0.75,-0.95,-0.7, -0.95];
const fit35 = [-0.4,-0.41,-0.42,-0.43,-0.45,-0.47,-0.5,-0.51,-0.52,-0.53,-0.53,-0.54,-0.55,-0.57,-0.58,-0.6,-0.61,-0.62,-0.63,-0.65,-0.68,-0.7,-0.72,-0.72,-0.73,-0.74,-0.75,-0.78,-0.8,-0.81,-0.82,-0.84,-0.85,-0.85,-0.86,-0.87,-0.87,-0.88];

const true36 = [0.95,0.7, 1.42,0.8,1.1,0.6, 1.0,0.3,0.9,0.5, 0.2,-0.12,1.0,0.5, 0.8,0.4,0.9,0.3, 0.7,0.3,0.9,0.5, 0.6,0.2,0.8,0.4, 0.65,0.0,0.55,0.2, 0.5,0.1,0.4,-0.1, 0.35,0.0,0.5,-0.3, 0.3,0.0,0.4,0.1, -0.4,0.2,-0.1,0.3, 0.0,0.25,-0.2,0.1, -0.3,0.0,0.15,-0.55, 0.1,-0.3,0.05,-0.5, -0.1,-0.3,0.1,-0.2, -0.4,-0.1,0.0,-0.3, -0.2,0.1,-0.6,-0.1, -1.05,-0.4,-0.9,0.18, -0.2];
const fit36 = [0.9,0.85,0.83,0.8,0.7,0.6,0.6,0.6,0.58,0.55,0.55,0.52,0.5,0.45,0.42,0.4,0.4,0.35,0.3,0.22,0.15,0.1,0.05,0.05,0.05,0.0,-0.15,-0.18,-0.2,-0.21,-0.22,-0.21,-0.2,-0.22,-0.25,-0.27,-0.28,-0.3];

const true37 = [0.25,0.1, 0.2,0.88,-0.1,0.3, -0.3,0.2,0.0,0.7, 0.0,-0.7,0.4,0.1, 0.8,0.2,-0.3,0.3, 0.0,0.5,-0.4,0.2, -0.8,0.1,-1.2,0.3, 0.0,0.4,-0.2,0.6, -0.1,0.3,0.0,-0.4, 0.5,0.0,0.7,-0.3, 0.2,0.5,-0.2,0.6, 0.4,1.3,0.6,1.1, 0.2,-0.3,0.7,0.1, 0.6,-0.4,0.9,0.3, 1.0,0.4,1.2,0.5, 0.8,0.3,1.1,0.5, 0.9,0.2,1.3,0.5, 0.7,0.3,1.38,0.4, 0.8,0.3,0.6,0.2, 0.85];
const fit37 = [-0.05,0.0,0.05,0.0,0.05,0.1,0.3,0.2,0.18,0.15,0.1,0.05,0.0,0.1,0.1,0.1,0.2,0.15,0.1,0.12,0.15,0.3,0.55,0.45,0.45,0.4,0.4,0.55,0.65,0.7,0.75,0.65,0.6,0.58,0.55,0.6,0.58,0.6];

const true38 = [0.5,-0.2, 1.0,-1.3,0.6,-0.8, 0.3,-0.5,0.5,-0.3, -1.7,-0.4,-2.5,-0.8, -2.0,-0.2,-1.2,-0.5, -1.3,0.0,-0.8,-0.4, -0.9,0.3,0.0,0.5, 0.0,0.6,-0.3,0.4, 0.7,0.2,1.0,0.5, 1.5,0.9,1.8,1.3, 1.6,1.0,1.4,0.8, 1.2,0.6,1.0,0.5, 1.3,0.8,1.5,0.9, 1.4,1.0,1.2,0.1, -1.0,-0.5,-1.4,-1.0, -1.8,0.0,-1.0,0.3, -0.3,0.5,-0.5,0.4, 0.5,0.8,0.1,0.7, 0.9,-0.1,0.8,-0.2, 0.7];
const fit38 = [-0.25,-0.35,-0.32,-0.3,-0.25,-0.35,-0.5,-0.35,-0.3,-0.2,-0.15,-0.1,0.0,0.1,0.25,0.2,0.25,0.35,0.4,0.6,0.45,0.2,-0.2,0.0,0.2,0.3,0.45,0.4,0.0,-0.1,0.0,0.1,0.2,0.3,0.5,0.6,0.7,0.65];

const true39 = [0.95,0.5, 0.9,0.6,1.0,0.7, 1.3,0.8,1.4,1.0, 1.7,1.2,1.6,1.0, 1.72,1.3,1.6,1.1, 1.5,1.0,1.4,0.9, 1.2,0.7,1.0,0.5, 0.3,0.8,0.2,0.6, 0.2,0.7,0.4,1.0, 0.5,0.0,0.8,0.3, -0.4,0.2,-0.1,0.4, -0.5,0.0,-0.55,0.1, -0.4,0.3,0.0,-0.5, 0.0,0.6,-0.3,0.5, 0.7,-0.3,0.6,0.0, 0.7,-0.2,0.4,-0.4, 0.5,0.0,0.3,-0.5, 0.3,-0.1,0.5,-0.2, 0.4,-0.4,0.2,-0.3, 0.1];
const fit39 = [1.25,1.15,1.15,1.15,1.1,1.0,1.1,0.8,0.85,0.85,0.9,0.95,0.8,0.78,0.75,0.75,0.72,0.7,0.75,0.6,0.5,0.3,0.28,0.3,0.35,0.25,0.1,0.05,0.0,-0.05,-0.08,-0.1,-0.12,-0.15,-0.05,-0.1,-0.05,-0.15];

const trueSeries = [
  true0, true1, true2, true3, true4, true5, true6, true7, true8, true9,
  true10, true11, true12, true13, true14, true15, true16, true17, true18, true19,
  true20, true21, true22, true23, true24, true25, true26, true27, true28, true29,
  true30, true31, true32, true33, true34, true35, true36, true37, true38, true39,
];
const fittedSeries = [
  fit0, fit1, fit2, fit3, fit4, fit5, fit6, fit7, fit8, fit9,
  fit10, fit11, fit12, fit13, fit14, fit15, fit16, fit17, fit18, fit19,
  fit20, fit21, fit22, fit23, fit24, fit25, fit26, fit27, fit28, fit29,
  fit30, fit31, fit32, fit33, fit34, fit35, fit36, fit37, fit38, fit39,
];

// sample dates: series are evenly spaced between first and last date
function withDates(values: number[]) {
  const n = values.length;
  return values.map((v, i) => ({ x: firstYear + (i * (lastYear - firstYear)) / (n - 1), y: v }));
}

const PANEL_W = 226.8;
const PANEL_H = 203;

function Panel({ idx }: { idx: number }) {
  const ref = useRef<HTMLCanvasElement | null>(null);
  useEffect(() => {
    const tv = trueSeries[idx];
    const fv = fittedSeries[idx];
    const all = tv.concat(fv);
    const lo = Math.min(...all);
    const hi = Math.max(...all);
    const padY = (hi - lo) * 0.05;
    const yMin = lo - padY;
    const yMax = hi + padY;
    const step = tickSteps[idx];
    const yTicks: number[] = [];
    for (let k = Math.ceil(yMin / step - 1e-9); k * step <= yMax + 1e-9; k++) {
      yTicks.push(Math.round(k * step * 100) / 100);
    }
    const padX = (lastYear - firstYear) * 0.05;
    const axisCommon = {
      grid: { display: true, drawOnChartArea: false, drawTicks: true, tickLength: 3, color: "#333333", lineWidth: 1 },
      border: { display: true, color: "#000000", width: 1 },
    };
    const chart = new Chart(ref.current as HTMLCanvasElement, {
      type: "line",
      data: {
        datasets: [
          {
            label: "fitted values",
            data: withDates(fv),
            borderColor: "#006400",
            borderWidth: 2,
            pointRadius: 0,
            tension: 0,
            order: 0,
          },
          {
            label: "true values",
            data: withDates(tv),
            borderColor: "#ff0000",
            borderWidth: 1,
            pointRadius: 0,
            tension: 0,
            order: 1,
          },
        ],
      },
      options: {
        animation: false,
        responsive: false,
        maintainAspectRatio: false,
        events: [],
        layout: { padding: { left: 0, right: 2, top: 0, bottom: 3 } },
        plugins: {
          legend: { display: false },
          tooltip: { enabled: false },
          title: {
            display: true,
            text: [`T${idx}: ${topicNames[idx]}`, `MSE: ${mseValues[idx]}`, `Factor loading: ${factorLoadings[idx]}`],
            align: "start",
            fullSize: false,
            color: "#000000",
            font: { size: 12, family: FONT, weight: "normal", lineHeight: 1.1 },
            padding: { top: 8, bottom: 5 },
          },
        },
        scales: {
          x: {
            type: "linear",
            min: firstYear - padX,
            max: lastYear + padX,
            afterBuildTicks: (s: any) => {
              s.ticks = xTickYears.map((v) => ({ value: v }));
            },
            ticks: {
              color: "#4d4d4d",
              font: { size: 10, family: FONT },
              padding: 2,
              maxRotation: 0,
              autoSkip: false,
              callback: (v: any) => String(v),
            },
            ...axisCommon,
          },
          y: {
            type: "linear",
            min: yMin,
            max: yMax,
            afterBuildTicks: (s: any) => {
              s.ticks = yTicks.map((v) => ({ value: v }));
            },
            afterFit: (s: any) => {
              s.width = 36;
            },
            ticks: {
              color: "#4d4d4d",
              font: { size: 10, family: FONT },
              padding: 2,
              autoSkip: false,
              callback: (v: any) => (step < 1 ? Number(v).toFixed(1) : String(Math.round(Number(v)))),
            },
            ...axisCommon,
          },
        },
      } as any,
    });
    return () => chart.destroy();
  }, [idx]);
  const col = idx % 5;
  const row = Math.floor(idx / 5);
  return (
    <div style={{ position: "absolute", left: col * PANEL_W, top: row * PANEL_H, width: 227, height: PANEL_H }}>
      <canvas ref={ref} width={227} height={PANEL_H} style={{ width: 227, height: PANEL_H, display: "block" }} />
    </div>
  );
}

function LegendSwatch({ color, left }: { color: string; left: number }) {
  return (
    <div style={{ position: "absolute", left, top: 15, width: 17, height: 2, background: color }} />
  );
}

export default function App() {
  const textStyle = { position: "absolute" as const, fontFamily: FONT, color: "#000", whiteSpace: "nowrap" as const, lineHeight: "16px" };
  return (
    <div style={{ position: "absolute", left: 0, top: 0, width: 1134, height: 1652, background: "#ffffff" }}>
      {topicNames.map((_, i) => (
        <Panel key={i} idx={i} />
      ))}
      <div style={{ position: "absolute", left: 0, top: 1628, width: 1134, height: 24 }}>
        <div style={{ ...textStyle, left: 447, top: 8, fontSize: 13 }}>Time series:</div>
        <LegendSwatch color="#006400" left={528} />
        <div style={{ ...textStyle, left: 553, top: 8, fontSize: 10.7, color: "#1a1a1a" }}>fitted values</div>
        <LegendSwatch color="#ff0000" left={620} />
        <div style={{ ...textStyle, left: 646, top: 8, fontSize: 10.7, color: "#1a1a1a" }}>true values</div>
      </div>
    </div>
  );
}
